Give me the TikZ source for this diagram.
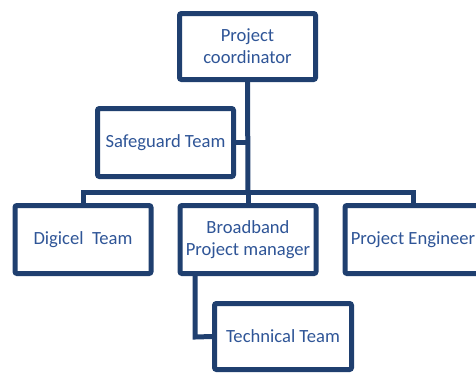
\documentclass[tikz,border=0pt]{standalone}
\usepackage{fontspec}
\setmainfont{Carlito}
\definecolor{frame}{HTML}{1F3F6F}
\definecolor{label}{HTML}{2F5597}
\begin{document}
\begin{tikzpicture}[x=1pt,y=-1pt,
  orgbox/.style={draw=frame, line width=5pt, rounded corners=2pt, fill=white,
    minimum width=136pt, minimum height=68pt, inner sep=0pt, align=center,
    text=label, font=\fontsize{18.6}{22}\selectfont},
  link/.style={draw=frame, line width=5pt}]
\useasboundingbox (0,0) rectangle (476,373);
\clip (0,0) rectangle (476,373);
% boxes
\node[orgbox, minimum height=66pt] (coord) at (247.5,46.5) {Project\\coordinator};
\node[orgbox] (safe) at (165.5,142.5) {Safeguard Team};
\node[orgbox] (digi) at (83,239.5) {Digicel\ \ Team};
\node[orgbox] (bpm) at (248,239.5) {Broadband\\Project manager};
\node[orgbox] (eng) at (413,239.5) {Project Engineer};
\node[orgbox, minimum width=137pt, minimum height=66pt] (tech) at (283,336.5) {Technical Team};
% junction points
\coordinate (bar) at (248,192);
\coordinate (hook) at (195,337);
% connectors
\draw[link] (coord.south) -- (bar);
\draw[link] (safe.east) -- (safe.east -| bar);
\draw[link] (digi.north) |- (bar) -| (eng.north);
\draw[link] (bar) -- (bpm.north);
\draw[link] (bpm.south -| hook) -- (hook) -- (tech.west);
\end{tikzpicture}
\end{document}
